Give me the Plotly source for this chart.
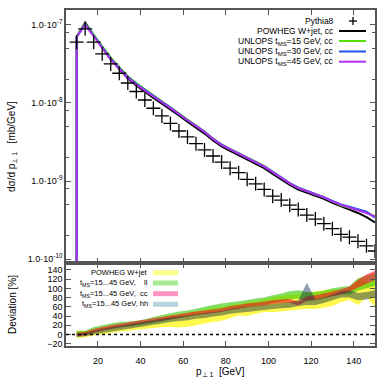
import plotly.graph_objects as go
from plotly.subplots import make_subplots

FONT = "Liberation Sans, Arial, sans-serif"

# bin positions (GeV)
pt_bins = [10, 14, 18, 22, 26, 30, 34, 38, 42, 46, 50, 54, 58, 62, 66, 70, 74, 78,
           82, 86, 90, 94, 98, 102, 106, 110, 114, 118, 122, 126, 130, 134, 138, 142, 146, 150]

# dsigma/dpT [mb/GeV]
pythia8 = [6.0e-8, 8.9e-8, 6.0e-8, 4.25e-8, 3.16e-8, 2.40e-8, 1.80e-8, 1.40e-8, 1.09e-8, 8.55e-9,
           6.81e-9, 5.46e-9, 4.37e-9, 3.67e-9, 3.01e-9, 2.50e-9, 2.09e-9, 1.75e-9, 1.46e-9, 1.28e-9,
           1.05e-9, 9.2e-10, 7.8e-10, 6.4e-10, 5.7e-10, 4.9e-10, 4.33e-10, 3.66e-10, 3.26e-10, 2.84e-10,
           2.45e-10, 2.07e-10, 1.91e-10, 1.69e-10, 1.48e-10, 1.27e-10]
powheg = [7.05e-8, 1.07e-7, 7.3e-8, 5.1e-8, 3.6e-8, 2.7e-8, 2.05e-8, 1.67e-8, 1.38e-8, 1.16e-8,
          9.8e-9, 8.3e-9, 6.9e-9, 5.75e-9, 4.85e-9, 4.05e-9, 3.3e-9, 2.77e-9, 2.43e-9, 2.15e-9,
          1.88e-9, 1.65e-9, 1.46e-9, 1.23e-9, 1.04e-9, 8.9e-10, 7.75e-10, 7.1e-10, 6.5e-10, 5.9e-10,
          5.25e-10, 4.7e-10, 4.3e-10, 3.9e-10, 3.45e-10, 2.95e-10]
unlops15 = [7.1e-8, 1.04e-7, 7.5e-8, 5.35e-8, 3.8e-8, 2.88e-8, 2.2e-8, 1.8e-8, 1.48e-8, 1.25e-8,
            1.05e-8, 8.8e-9, 7.3e-9, 6.1e-9, 5.15e-9, 4.3e-9, 3.5e-9, 2.95e-9, 2.58e-9, 2.28e-9,
            2.0e-9, 1.75e-9, 1.56e-9, 1.31e-9, 1.10e-9, 9.4e-10, 8.2e-10, 7.5e-10, 6.9e-10, 6.2e-10,
            5.5e-10, 4.9e-10, 4.55e-10, 4.3e-10, 3.95e-10, 3.55e-10]
unlops30 = [7.0e-8, 1.02e-7, 7.35e-8, 5.2e-8, 3.7e-8, 2.8e-8, 2.15e-8, 1.76e-8, 1.46e-8, 1.23e-8,
            1.03e-8, 8.7e-9, 7.2e-9, 6.0e-9, 5.1e-9, 4.28e-9, 3.48e-9, 2.92e-9, 2.56e-9, 2.26e-9,
            1.98e-9, 1.74e-9, 1.54e-9, 1.31e-9, 1.1e-9, 9.4e-10, 8.2e-10, 7.5e-10, 6.85e-10, 6.2e-10,
            5.55e-10, 5.0e-10, 4.7e-10, 4.4e-10, 4.05e-10, 3.4e-10]
unlops45 = [7.0e-8, 1.0e-7, 7.2e-8, 5.1e-8, 3.6e-8, 2.73e-8, 2.1e-8, 1.72e-8, 1.43e-8, 1.21e-8,
            1.02e-8, 8.6e-9, 7.15e-9, 5.97e-9, 5.07e-9, 4.25e-9, 3.45e-9, 2.89e-9, 2.54e-9, 2.25e-9,
            1.97e-9, 1.73e-9, 1.53e-9, 1.30e-9, 1.09e-9, 9.35e-10, 8.13e-10, 7.44e-10, 6.81e-10, 6.17e-10,
            5.5e-10, 4.95e-10, 4.58e-10, 4.25e-10, 3.89e-10, 3.5e-10]
# the (empty) bin just below the cut, drawn as a drop to the bottom of the log axis
empty_bin = 1e-13

# deviation bands [%]
powheg_lo = [-8, -6, -2, 0, 3, 6, 8, 10, 12, 14, 16, 16, 15, 17, 20, 24, 27, 30, 35, 41, 40, 45,
             49, 49, 50, 52, 54, 56, 55, 58, 62, 70, 75, 64, 80, 60]
powheg_hi = [8, 8, 10, 14, 18, 20, 22, 24, 28, 32, 36, 40, 44, 46, 50, 54, 58, 60, 64, 66, 70, 72,
             76, 80, 84, 86, 88, 90, 94, 96, 98, 96, 100, 120, 112, 118]
ll_lo = [-3, 0, 5, 9, 12, 15, 17, 19, 22, 25, 28, 32, 36, 39, 42, 45, 48, 51, 54, 57, 60, 62,
         64, 68, 72, 76, 78, 72, 74, 78, 84, 88, 86, 95, 100, 105]
ll_hi = [8, 8, 16, 20, 24, 27, 28, 30, 33, 38, 42, 46, 50, 52, 56, 60, 64, 67, 70, 72, 75, 78,
         80, 85, 89, 94, 96, 92, 92, 95, 100, 103, 105, 122, 128, 132]
cc_lo = [-4, -2, 4, 8, 12, 15, 18, 21, 24, 27, 30, 33, 36, 39, 42, 44, 46, 49, 53, 56, 59, 61,
         63, 66, 68, 69, 63, 73, 75, 79, 83, 86, 92, 102, 110, 118]
cc_hi = [4, 6, 12, 16, 20, 23, 26, 29, 32, 35, 38, 41, 44, 47, 50, 52, 54, 57, 61, 64, 67, 69,
         71, 74, 76, 77, 71, 83, 85, 89, 93, 98, 104, 118, 130, 138]
hh_lo = [-6, -4, 0, 3, 6, 9, 12, 15, 18, 21, 24, 27, 29, 31, 34, 36, 39, 41, 45, 47, 49, 51,
         53, 55, 57, 58, 62, 64, 64, 68, 74, 80, 80, 74, 76, 80]
hh_hi = [2, 4, 8, 12, 16, 19, 22, 25, 28, 31, 34, 37, 39, 41, 44, 46, 49, 51, 55, 58, 60, 62,
         64, 66, 68, 70, 74, 112, 76, 80, 86, 94, 96, 90, 92, 96]

line_names = ["POWHEG W+jet, cc", "UNLOPS t<sub>MS</sub>=15 GeV, cc",
              "UNLOPS t<sub>MS</sub>=30 GeV, cc", "UNLOPS t<sub>MS</sub>=45 GeV, cc"]
line_colors = ["#000000", "#55e000", "#2255ee", "#b030f0"]
band_names = ["POWHEG W+jet", "t<sub>MS</sub>=15...45 GeV,    ll",
              "t<sub>MS</sub>=15...45 GeV,  cc", "t<sub>MS</sub>=15...45 GeV, hh"]
band_fill = ["rgba(255,245,0,0.7)", "rgba(50,200,0,0.6)", "rgba(255,10,30,0.6)", "rgba(10,45,75,0.45)"]
swatch_fill = ["rgba(255,255,0,0.45)", "rgba(60,210,20,0.45)", "rgba(255,40,130,0.5)", "rgba(90,160,185,0.45)"]

fig = make_subplots(rows=2, cols=1, shared_xaxes=True, vertical_spacing=0,
                    row_heights=[0.753, 0.247])

for name, ys, col in zip(line_names, [powheg, unlops15, unlops30, unlops45], line_colors):
    fig.add_trace(go.Scatter(x=[pt_bins[0]] + pt_bins, y=[empty_bin] + ys, mode="lines", name=name,
                             line=dict(color=col, width=2)), row=1, col=1)

fig.add_trace(go.Scatter(x=pt_bins, y=pythia8, mode="markers", name="Pythia8",
                         marker=dict(symbol="cross-thin", size=10, color="black",
                                     line=dict(color="black", width=1.3))), row=1, col=1)

for name, lo, hi, col in zip(band_names, [powheg_lo, ll_lo, cc_lo, hh_lo],
                             [powheg_hi, ll_hi, cc_hi, hh_hi], band_fill):
    fig.add_trace(go.Scatter(x=pt_bins + pt_bins[::-1], y=hi + lo[::-1], fill="toself",
                             fillcolor=col, mode="none", name=name), row=2, col=1)

fig.add_hline(y=0, line=dict(color="black", dash="dot", width=1.5), row=2, col=1)

axcol = "#555555"
common = dict(showline=True, linecolor=axcol, linewidth=1.5, mirror="ticks", ticks="inside",
              tickcolor=axcol, ticklen=5, tickwidth=1, showgrid=False, zeroline=False,
              tickfont=dict(family=FONT, size=9, color="black"))

fig.update_xaxes(range=[5, 150], tickvals=[20, 40, 60, 80, 100, 120, 140], **common)
fig.update_xaxes(showticklabels=False, row=1, col=1)
fig.update_xaxes(ticklabelstandoff=5, row=2, col=1)

decades = [1e-10, 1e-9, 1e-8, 1e-7]
minor_vals = [m * d for d in [1e-10, 1e-9, 1e-8] for m in (2, 5, 8)]
fig.update_yaxes(type="log", range=[-10.05, -6.81], tickvals=decades,
                 ticktext=["1.0·10<sup>-10</sup>", "1.0·10<sup>-9</sup>",
                           "1.0·10<sup>-8</sup>", "1.0·10<sup>-7</sup>"],
                 minor=dict(tickvals=minor_vals, ticks="inside", ticklen=3, tickcolor=axcol),
                 row=1, col=1, **common)
fig.update_yaxes(range=[-25, 155], tickvals=list(range(-20, 141, 20)), row=2, col=1, **common)

L, R, T, B = 66, 15, 10, 44
W, H = 390 - L - R, 390 - T - B


def xp(px):
    return (px - L) / W


def yp(py):
    return (T + H - py) / H


shapes = []
annotations = []
# top legend
rows_top = [21, 31, 41, 51.5, 61.7]
annotations.append(dict(x=xp(336), y=yp(rows_top[0]), text="Pythia8", showarrow=False,
                        xanchor="right", yanchor="middle", xref="paper", yref="paper",
                        font=dict(family=FONT, size=8.5, color="black")))
shapes.append(dict(type="line", xref="paper", yref="paper", x0=xp(349), x1=xp(357),
                   y0=yp(rows_top[0]), y1=yp(rows_top[0]), line=dict(color="black", width=1.3)))
shapes.append(dict(type="line", xref="paper", yref="paper", x0=xp(353), x1=xp(353),
                   y0=yp(rows_top[0] - 4), y1=yp(rows_top[0] + 4), line=dict(color="black", width=1.3)))
for name, col, py in zip(line_names, line_colors, rows_top[1:]):
    annotations.append(dict(x=xp(336), y=yp(py), text=name, showarrow=False, xanchor="right",
                            yanchor="middle", xref="paper", yref="paper",
                            font=dict(family=FONT, size=8.5, color="black")))
    shapes.append(dict(type="line", xref="paper", yref="paper", x0=xp(339), x1=xp(366),
                       y0=yp(py), y1=yp(py), line=dict(color=col, width=2)))

# bottom legend
rows_bot = [272.7, 283, 293.7, 304.3]
for name, col, py in zip(band_names, swatch_fill, rows_bot):
    annotations.append(dict(x=xp(150), y=yp(py), text=name, showarrow=False, xanchor="right",
                            yanchor="middle", xref="paper", yref="paper",
                            font=dict(family=FONT, size=7.5, color="black")))
    shapes.append(dict(type="rect", xref="paper", yref="paper", x0=xp(153), x1=xp(178),
                       y0=yp(py + 2.5), y1=yp(py - 2.5), fillcolor=col, line=dict(width=0)))

# axis titles
annotations.append(dict(x=xp(12), y=yp(147), text="dσ/d p<sub>⊥ 1</sub>   [mb/GeV]", textangle=-90,
                        showarrow=False, xref="paper", yref="paper", xanchor="center", yanchor="middle",
                        font=dict(family=FONT, size=10, color="black")))
annotations.append(dict(x=xp(12), y=yp(305), text="Deviation [%]", textangle=-90,
                        showarrow=False, xref="paper", yref="paper", xanchor="center", yanchor="middle",
                        font=dict(family=FONT, size=10, color="black")))
annotations.append(dict(x=xp(220), y=yp(372), text="p<sub>⊥ 1</sub>  [GeV]",
                        showarrow=False, xref="paper", yref="paper", xanchor="center", yanchor="middle",
                        font=dict(family=FONT, size=10, color="black")))

fig.update_layout(width=390, height=390, margin=dict(l=L, r=R, t=T, b=B, autoexpand=False),
                  paper_bgcolor="white", plot_bgcolor="white", showlegend=False,
                  shapes=fig.layout.shapes + tuple(shapes), annotations=annotations)

# drop the browser's default 8px body margin so the figure sits at the page corner
fig.write_html("out.html", config={"displayModeBar": False},
               post_script="document.body.style.margin='0';")
